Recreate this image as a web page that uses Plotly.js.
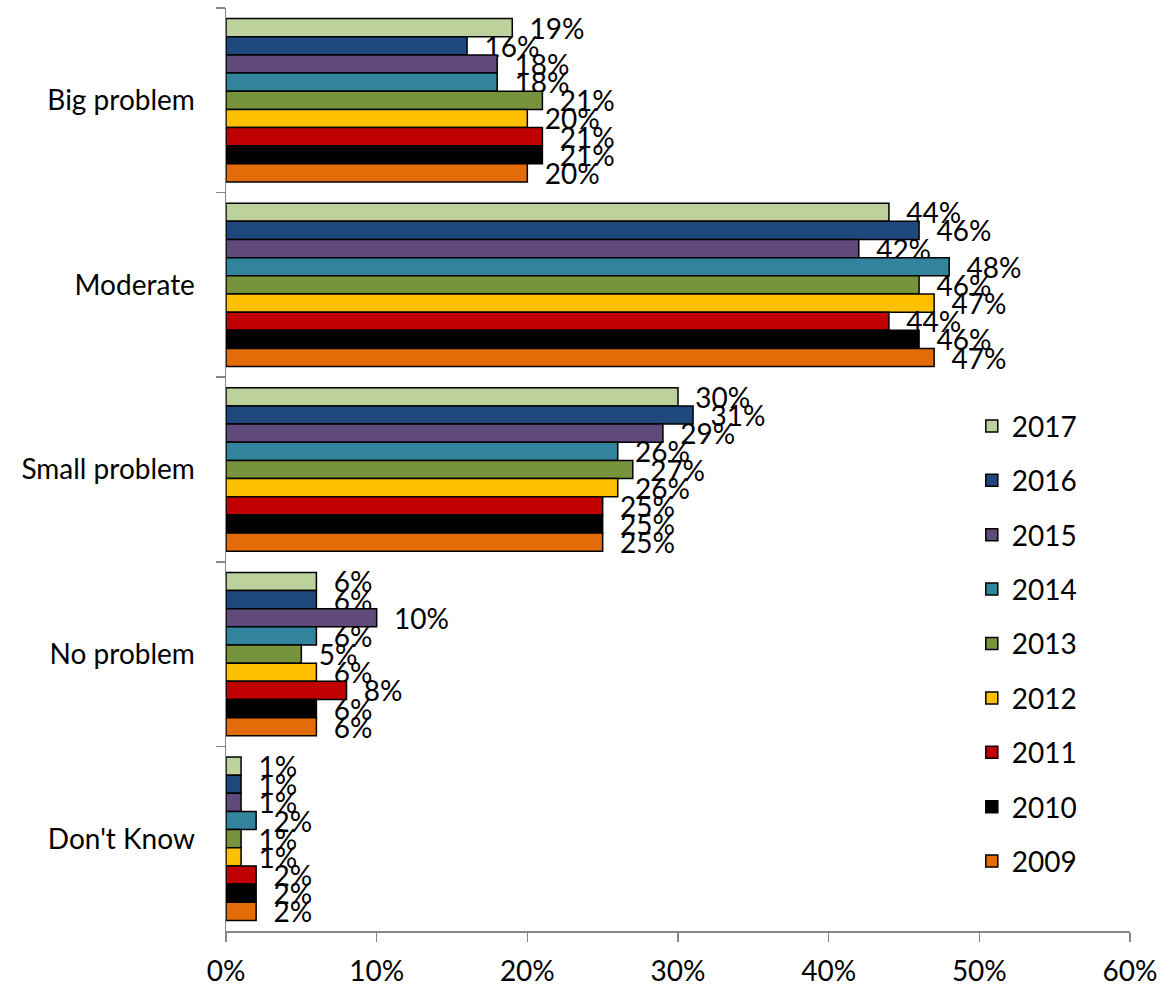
<!DOCTYPE html>
<html>
<head>
<meta charset="utf-8">
<script src="https://cdn.plot.ly/plotly-3.0.1.min.js"></script>
<style>html,body{margin:0;padding:0;background:#fff;}#chart{width:1168px;height:986px;}</style>
</head>
<body>
<div id="chart"></div>
<script>
var categories = ["Big problem", "Moderate", "Small problem", "No problem", "Don't Know"];
var years = ["2017", "2016", "2015", "2014", "2013", "2012", "2011", "2010", "2009"];
var v2017 = [19, 44, 30, 6, 1];
var v2016 = [16, 46, 31, 6, 1];
var v2015 = [18, 42, 29, 10, 1];
var v2014 = [18, 48, 26, 6, 2];
var v2013 = [21, 46, 27, 5, 1];
var v2012 = [20, 47, 26, 6, 1];
var v2011 = [21, 44, 25, 8, 2];
var v2010 = [21, 46, 25, 6, 2];
var v2009 = [20, 47, 25, 6, 2];
var xTickVals = [0, 10, 20, 30, 40, 50, 60];
var xTickText = ["0%", "10%", "20%", "30%", "40%", "50%", "60%"];

var seriesValues = [v2017, v2016, v2015, v2014, v2013, v2012, v2011, v2010, v2009];
var colors = ["#BCD19B", "#1F497D", "#604A7B", "#31849B", "#77933C", "#FFC000", "#C00000", "#000000", "#E36C09"];

var FONT = "Lato, 'Open Sans', sans-serif";
var FS = 28;
var traces = years.map(function (yr, i) {
  return {
    type: "bar",
    orientation: "h",
    name: yr,
    legendgroup: yr,
    x: seriesValues[i],
    y: categories,
    text: seriesValues[i].map(function (v) { return v + "%"; }),
    marker: { color: colors[i], line: { color: "#000000", width: 1.5 } },
    texttemplate: "\u00a0\u00a0%{text}",
    textposition: "outside",
    constraintext: "none",
    cliponaxis: false,
    textfont: { family: FONT, size: FS, color: "#000" },
    hoverinfo: "x+name"
  };
});

var layout = {
  width: 1168,
  height: 986,
  margin: { l: 226, r: 38, t: 8, b: 55 },
  paper_bgcolor: "#fff",
  plot_bgcolor: "#fff",
  font: { family: FONT, size: FS, color: "#000" },
  barmode: "group",
  bargap: 0.115,
  bargroupgap: 0,
  showlegend: true,
  legend: {
    x: 0.825, y: 0.574, xanchor: "left", yanchor: "top",
    traceorder: "grouped",
    tracegroupgap: 15,
    font: { family: FONT, size: FS, color: "#000" },
    bgcolor: "rgba(0,0,0,0)"
  },
  xaxis: {
    range: [0, 60],
    tickmode: "array",
    tickvals: xTickVals,
    ticktext: xTickText,
    showgrid: false,
    zeroline: false,
    showline: true,
    linecolor: "#868686",
    linewidth: 1.5,
    ticks: "outside",
    ticklen: 9,
    tickwidth: 1.5,
    tickcolor: "#868686",
    ticklabelstandoff: 6,
    fixedrange: true
  },
  yaxis: {
    type: "category",
    autorange: "reversed",
    showgrid: false,
    zeroline: false,
    showline: true,
    linecolor: "#868686",
    linewidth: 1.5,
    ticks: "outside",
    tickson: "boundaries",
    ticklen: 9,
    tickwidth: 1.5,
    tickcolor: "#868686",
    ticklabelstandoff: 24,
    fixedrange: true
  }
};

Plotly.newPlot("chart", traces, layout, { displayModeBar: false, staticPlot: true });
</script>
</body>
</html>
